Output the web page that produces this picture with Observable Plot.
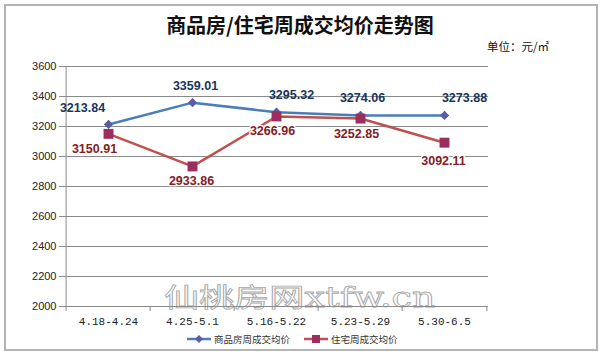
<!DOCTYPE html>
<html><head><meta charset="utf-8">
<script src="https://cdn.jsdelivr.net/npm/d3@7"></script>
<script src="https://cdn.jsdelivr.net/npm/@observablehq/plot@0.6"></script>
<style>
body{margin:0;background:#fff;}
#wrap{position:relative;width:600px;height:356px;overflow:hidden;font-family:"Liberation Sans",Arial,sans-serif;}
#border{position:absolute;left:4px;top:4px;width:590px;height:343px;border:2px solid #b4b4b4;}
#title{position:absolute;left:0;width:600px;top:10px;text-align:center;font-family:"Noto Sans CJK SC",sans-serif;font-weight:bold;font-size:20px;color:#111;}
#unit{position:absolute;left:487px;top:38px;font-family:"Noto Sans CJK SC",sans-serif;font-size:11.5px;color:#111;}
#wm{position:absolute;left:164px;top:277px;font-family:"Noto Sans CJK SC",sans-serif;font-size:26px;color:#fff;-webkit-text-stroke:0.8px #a8a8a8;transform:scaleX(1.35);transform-origin:left top;white-space:nowrap;letter-spacing:0px;}
#wm span{font-family:"DejaVu Serif",serif;font-size:27px;}
#legend{position:absolute;top:332px;left:187px;font-family:"Noto Sans CJK SC",sans-serif;font-size:9.5px;color:#333;display:flex;align-items:center;}
#legend .it{display:flex;align-items:center;margin-right:14px;}
#legend svg{margin-right:3px;}
svg.plot{position:absolute;left:0;top:0;}
</style>
</head><body>
<div id="wrap">
  <div id="border"></div>
  <div id="title">商品房/住宅周成交均价走势图</div>
  <div id="unit">单位：元/㎡</div>
  <div id="wm">仙桃房网<span>xtfw.cn</span></div>
  <div id="chart"></div>
  <div id="legend"></div>
</div>
<script>
const weeks = ["4.18-4.24", "4.25-5.1", "5.16-5.22", "5.23-5.29", "5.30-6.5"];
const seriesNames = ["商品房周成交均价", "住宅周成交均价"];
const commercial = [3213.84, 3359.01, 3295.32, 3274.06, 3273.88];
const residential = [3150.91, 2933.86, 3266.96, 3252.85, 3092.11];
const yTicks = [2000, 2200, 2400, 2600, 2800, 3000, 3200, 3400, 3600];

const colors = {line: ["#4a7ebb", "#c0504d"], marker: ["#5b5ba6", "#9b2d5f"], label: ["#17365d", "#85201f"]};

const rows = [];
[commercial, residential].forEach((vals, s) => vals.forEach((v, i) => rows.push({week: weeks[i], value: v, series: seriesNames[s], s, i})));
const comm = rows.filter(d => d.s === 0);
const resi = rows.filter(d => d.s === 1);

const W = 600, H = 356, mt = 66, mb = 50, ml = 64, mr = 112;
const step = (W - ml - mr) / weeks.length;
// label nudges (layout only)
const nudgeBlue = [[-26, -16], [3, -17], [15, -17], [2, -17], [20, -17]];
const nudgeRed = [[-14, 15], [-1, 15], [-4, 15], [-4, 15], [-1, 18]];
const grid = "#8a8a8a";

const labelMarks = (data, nudge, color, halo) => data.map((d, k) => Plot.text([d], {
  x: "week", y: "value", text: d => d.value.toFixed(2),
  dx: nudge[k][0], dy: nudge[k][1], fill: color, fontWeight: "bold", fontSize: 12.5,
  fontFamily: "Liberation Sans, Arial, sans-serif",
  stroke: halo ? "#fff" : null, strokeWidth: halo ? 2.5 : 0, paintOrder: "stroke"
}));

const chart = Plot.plot({
  width: W, height: H, marginTop: mt, marginBottom: mb, marginLeft: ml, marginRight: mr,
  style: {background: "transparent", fontFamily: "Liberation Sans, Arial, sans-serif"},
  x: {type: "point", domain: weeks, padding: 0.5, axis: null, label: null},
  y: {domain: [2000, 3600], ticks: yTicks, axis: null, label: null},
  marks: [
    Plot.gridY(yTicks, {stroke: grid, strokeOpacity: 1, strokeWidth: 1}),
    Plot.axisY(yTicks, {tickSize: 5, tickPadding: 3, stroke: grid, fontSize: 11, fill: "#222", label: null, tickFormat: d => String(d)}),
    Plot.ruleX([weeks[0]], {dx: -step / 2, stroke: grid}),
    Plot.ruleX(weeks, {y1: 2000, y2: 2000, dx: -step / 2, insetBottom: -5, stroke: grid}),
    Plot.ruleX([weeks[weeks.length - 1]], {y1: 2000, y2: 2000, dx: step / 2, insetBottom: -5, stroke: grid}),
    Plot.axisX(weeks, {tickSize: 0, tickPadding: 11, fontSize: 11, fill: "#222", label: null, fontFamily: "Liberation Mono, monospace"}),
    Plot.line(comm, {x: "week", y: "value", stroke: colors.line[0], strokeWidth: 2.5}),
    Plot.line(resi, {x: "week", y: "value", stroke: colors.line[1], strokeWidth: 2.5}),
    Plot.dot(comm, {x: "week", y: "value", symbol: "diamond2", r: 4.2, fill: colors.marker[0], stroke: null}),
    Plot.dot(resi, {x: "week", y: "value", symbol: "square", r: 5.6, fill: colors.marker[1], stroke: null}),
    ...labelMarks(comm, nudgeBlue, colors.label[0], false),
    ...labelMarks(resi, nudgeRed, colors.label[1], true)
  ]
});
chart.classList.add("plot");
document.getElementById("chart").appendChild(chart);

// legend
const lg = document.getElementById("legend");
seriesNames.forEach((name, s) => {
  const it = document.createElement("div");
  it.className = "it";
  const sym = s === 0
    ? `<path d="M12,1 L16,5 L12,9 L8,5 Z" fill="${colors.marker[0]}"/>`
    : `<rect x="8" y="1" width="8" height="8" fill="${colors.marker[1]}"/>`;
  it.innerHTML = `<svg width="24" height="10"><line x1="0" x2="24" y1="5" y2="5" stroke="${colors.line[s]}" stroke-width="2.5"/>${sym}</svg><span>${name}</span>`;
  lg.appendChild(it);
});
</script>
</body></html>
